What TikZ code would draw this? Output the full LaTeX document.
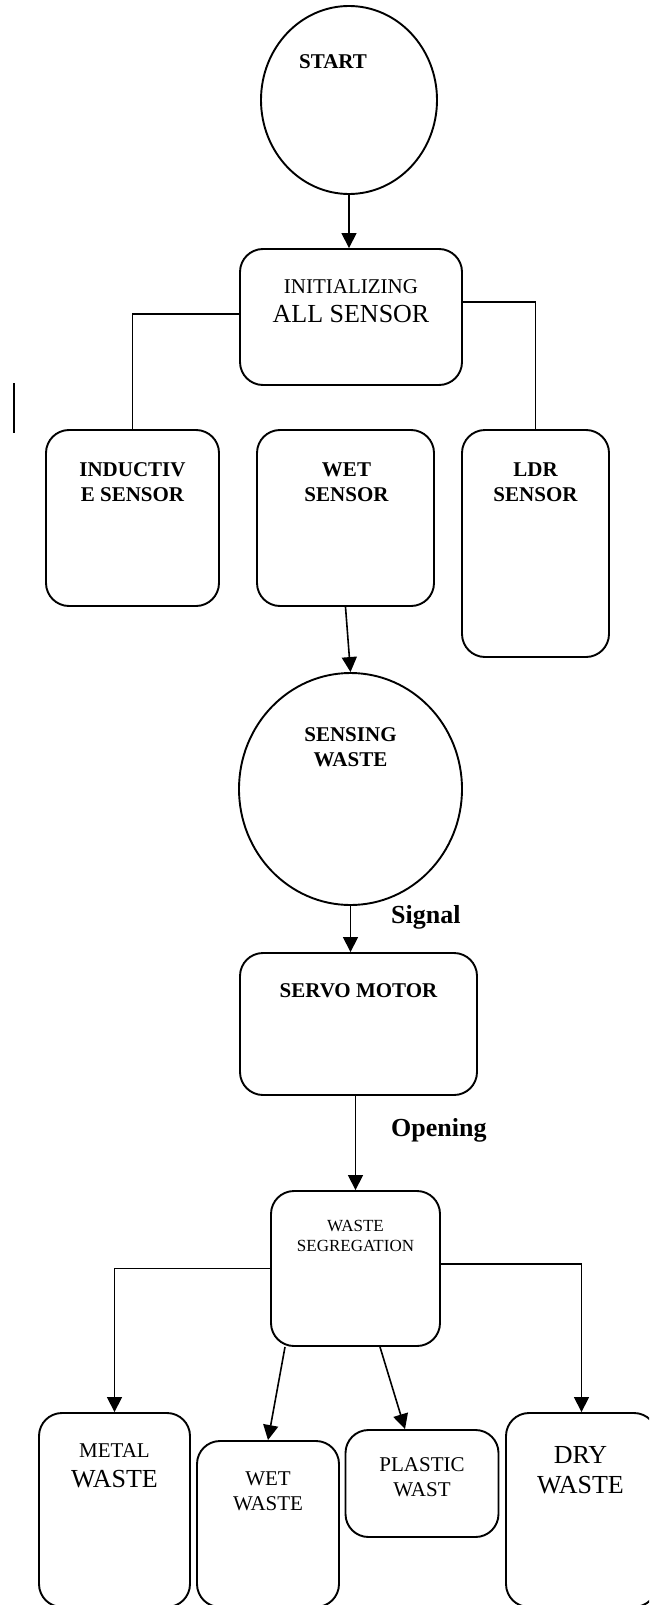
\documentclass[tikz,border=0pt]{standalone}
\usepackage{fontspec}
\setmainfont{Liberation Serif}
\usetikzlibrary{positioning,shapes.geometric,arrows.meta}
\tikzset{
  block/.style={draw,rounded corners=23pt,line width=1.9pt,inner sep=0pt},
  oval/.style={draw,ellipse,line width=1.9pt,inner sep=0pt},
  bold tag/.style={font=\fontsize{21}{25}\selectfont\bfseries,align=center,inner sep=0pt},
  tag/.style={font=\fontsize{21}{25}\selectfont,align=center,inner sep=0pt},
  big tag/.style={font=\fontsize{26}{30}\selectfont,align=center,inner sep=0pt},
  note/.style={font=\fontsize{26}{30}\selectfont\bfseries,inner sep=0pt,anchor=base west},
  wire/.style={line width=1.6pt},
  flow/.style={line width=1.6pt,-{Triangle[width=15pt,length=15pt]}}
}

\begin{document}
\begin{tikzpicture}[x=1pt,y=-1pt]
  \useasboundingbox (0,0) rectangle (649,1605);
  \clip (0,0) rectangle (649,1605);

  \node[oval,minimum width=176pt,minimum height=188pt] (start) at (349,100) {};
  \node[block,minimum width=222pt,minimum height=136pt] (init) at (351,317) {};
  \node[block,minimum width=173pt,minimum height=176pt] (induct) at (132.5,518) {};
  \node[block,minimum width=177pt,minimum height=176pt] (wetsens) at (345.5,518) {};
  \node[block,minimum width=147pt,minimum height=227pt] (ldr) at (535.5,543.5) {};
  \node[oval,minimum width=223pt,minimum height=232pt] (sensing) at (350.5,789) {};
  \node[block,minimum width=237pt,minimum height=142pt] (servo) at (358.5,1024) {};
  \node[block,minimum width=169pt,minimum height=155pt] (segr) at (355.5,1268.5) {};
  \node[block,minimum width=151pt,minimum height=194pt] (metal) at (114.5,1510) {};
  \node[block,minimum width=142pt,minimum height=166pt] (wetwaste) at (268,1524) {};
  \node[block,minimum width=153pt,minimum height=107pt] (plastic) at (422,1483.5) {};
  \node[block,minimum width=151pt,minimum height=194pt] (dry) at (581.5,1510) {};

  \node[bold tag,below=49pt of start.north,xshift=-16pt] (starttxt) {START};
  \node[tag,font=\fontsize{21}{29}\selectfont,below=31pt of init.north] (inittxt)
    {INITIALIZING\\{\fontsize{26}{29}\selectfont ALL SENSOR}};
  \node[bold tag,below=33pt of induct.north] (inducttxt) {INDUCTIV\\E SENSOR};
  \node[bold tag,below=33pt of wetsens.north,xshift=1pt] (wetsenstxt) {WET\\SENSOR};
  \node[bold tag,below=33pt of ldr.north] (ldrtxt) {LDR\\SENSOR};
  \node[bold tag,below=55pt of sensing.north] (sensingtxt) {SENSING\\WASTE};
  \node[bold tag,below=31pt of servo.north] (servotxt) {SERVO MOTOR};
  \node[tag,font=\fontsize{17}{20}\selectfont,below=30pt of segr.north] (segrtxt)
    {WASTE\\SEGREGATION};
  \node[tag,font=\fontsize{21}{30}\selectfont,below=31pt of metal.north] (metaltxt)
    {METAL\\{\fontsize{26}{30}\selectfont WASTE}};
  \node[tag,below=31pt of wetwaste.north] (wetwastetxt) {WET\\WASTE};
  \node[tag,below=28pt of plastic.north] (plastictxt) {PLASTIC\\WAST};
  \node[big tag,below=34pt of dry.north,xshift=-1pt] (drytxt) {DRY\\WASTE};

  \node[note] (signal) at (391,923) {Signal};
  \node[note] (opening) at (391,1136) {Opening};

  \draw[flow] (start.south) -- (start.south |- init.north);
  \draw[wire] ([yshift=3pt]init.west) -| (induct.north);
  \draw[wire] ([yshift=15pt]init.east) -| (ldr.north);
  \draw[flow] (wetsens.south) -- (sensing.north);
  \draw[flow] (sensing.south) -- (sensing.south |- servo.north);
  \draw[flow] (servo.south -| segr.north) -- (segr.north);
  \draw[flow] (segr.west) -| (metal.north);
  \draw[flow] ([yshift=4.5pt]segr.east) -| (dry.north);
  \draw[flow] ([xshift=-70.5pt]segr.south) -- (wetwaste.north);
  \draw[flow] ([xshift=24.5pt]segr.south) -- ([xshift=-17pt]plastic.north);

  \draw[line width=1.2pt] (14,383) -- (14,433);
\end{tikzpicture}
\end{document}
